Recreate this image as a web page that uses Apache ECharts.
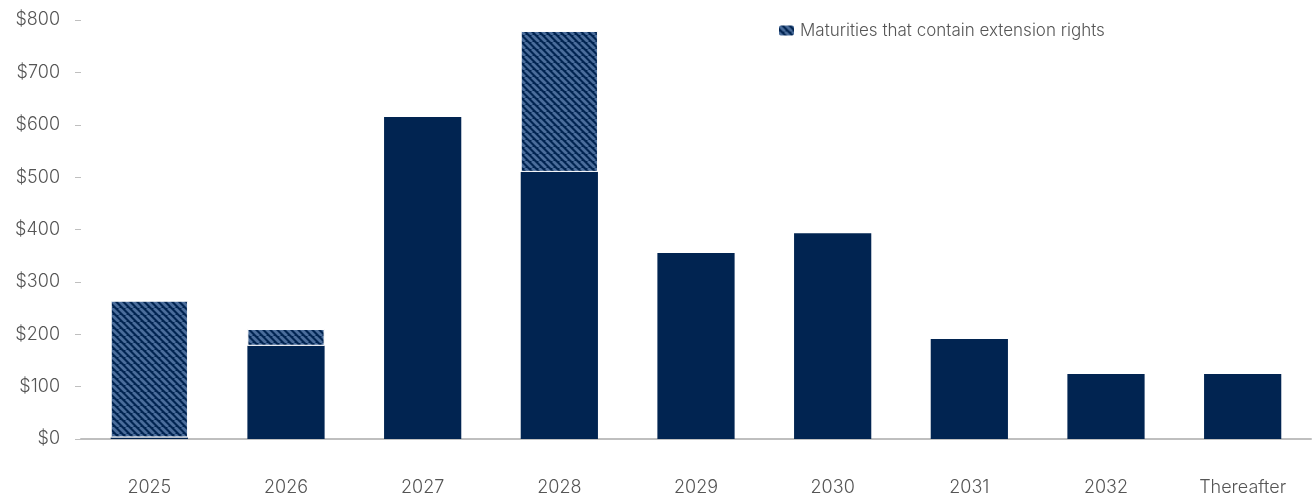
<!DOCTYPE html>
<html><head><meta charset="utf-8">
<script src="https://cdn.jsdelivr.net/npm/echarts@6/dist/echarts.min.js"></script>
<style>html,body{margin:0;padding:0;background:#fff}#c{width:1312px;height:500px}</style>
</head><body><div id="c"></div>
<script>
const categories = ['2025','2026','2027','2028','2029','2030','2031','2032','Thereafter'];
const baseValues = [3, 178, 615, 510, 355, 393, 191, 124, 124];
const extensionValues = [261, 32, null, 269, null, null, null, null, null];
const yTicks = [0, 100, 200, 300, 400, 500, 600, 700, 800];
const legendLabel = 'Maturities that contain extension rights';

const NAVY = '#012451';
function makePattern(){
  const c = document.createElement('canvas');
  const s = 7; c.width = s; c.height = s;
  const g = c.getContext('2d');
  g.fillStyle = NAVY; g.fillRect(0,0,s,s);
  g.strokeStyle = '#4b6d9b'; g.lineWidth = 2.8;
  for (let k=-1;k<=1;k++){
    g.beginPath(); g.moveTo(k*s, 0); g.lineTo(k*s+s, s); g.stroke();
  }
  return c;
}
const pat = {image: makePattern(), repeat: 'repeat'};
const FONT = 'Inter';
const chart = echarts.init(document.getElementById('c'));
chart.setOption({
  animation:false,
  grid:{left:81,right:1,top:20,bottom:61,containLabel:false},
  legend:{data:[legendLabel],top:17,left:772,itemWidth:17,itemHeight:12,itemGap:10,
    textStyle:{fontFamily:FONT,fontWeight:300,fontSize:17,color:'#555'}},
  xAxis:{type:'category',data:categories,
    axisLine:{lineStyle:{color:'#bfbfbf',width:2}},axisTick:{show:false},
    axisLabel:{fontFamily:FONT,fontWeight:300,fontSize:18,color:'#555',margin:40}},
  yAxis:{type:'value',min:0,max:800,interval:100,
    splitLine:{show:false},axisLine:{show:false},
    axisTick:{show:true,length:6,lineStyle:{color:'#bfbfbf'}},
    axisLabel:{fontFamily:FONT,fontWeight:300,fontSize:18,color:'#555',margin:21,
      formatter:v=> yTicks.includes(v)?'$'+v:''}},
  series:[
    {name:'Base',type:'bar',stack:'t',data:baseValues,barWidth:'56.5%',
      itemStyle:{color:NAVY}},
    {name:legendLabel,type:'bar',stack:'t',data:extensionValues,barWidth:'56.5%',
      itemStyle:{color:pat,borderColor:'#fff',borderWidth:1}}
  ]
});
</script></body></html>
